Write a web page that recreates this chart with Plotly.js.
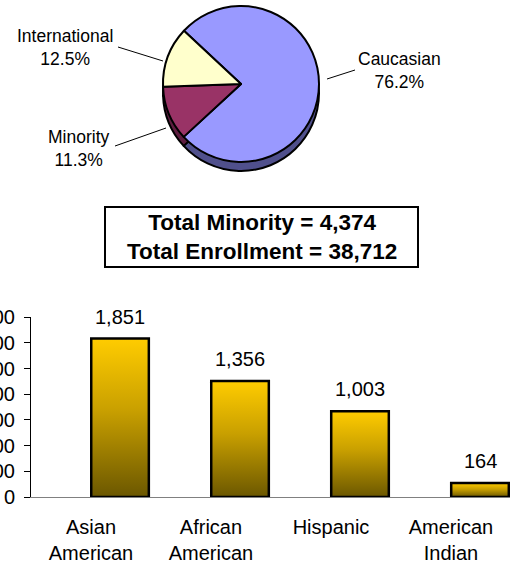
<!DOCTYPE html>
<html>
<head>
<meta charset="utf-8">
<script src="https://cdn.plot.ly/plotly-3.0.1.min.js"></script>
<style>html,body{margin:0;padding:0;background:#fff;}#chart{width:510px;height:564px;}</style>
</head>
<body>
<div id="chart"></div>
<script>
// ---- data ----
var pieLabels = ['Caucasian', 'Minority', 'International'];
var piePercents = [76.2, 11.3, 12.5];
var pieColors = ['#9999FF', '#993366', '#FFFFCC'];
var pieSideColors = ['#50508C', '#5E1D40', '#8C8C70'];

var barCategories = ['Asian<br>American', 'African<br>American', 'Hispanic', 'American<br>Indian'];
var barValues = [1851, 1356, 1003, 164];

var totalMinority = 4374;
var totalEnrollment = 38712;

// ---- helpers (pixel -> paper) ----
var W = 510, H = 564;
function px(x) { return x / W; }
function py(y) { return 1 - y / H; }
var FONT = 'Liberation Sans, Arial, sans-serif';

var traces = [];

// pie depth (shadow) then top face
var pieCx = 241, pieCy = 84, pieR = 78, depth = 9;
traces.push({
  type: 'pie', values: piePercents, labels: pieLabels, sort: false,
  direction: 'clockwise', rotation: -47, textinfo: 'none', hoverinfo: 'skip',
  showlegend: false,
  marker: { colors: pieSideColors, line: { color: '#000', width: 2 } },
  domain: { x: [px(pieCx - pieR), px(pieCx + pieR)], y: [py(pieCy + depth + pieR), py(pieCy + depth - pieR)] }
});
traces.push({
  type: 'pie', values: piePercents, labels: pieLabels, sort: false,
  direction: 'clockwise', rotation: -47, textinfo: 'none', hoverinfo: 'skip',
  showlegend: false,
  marker: { colors: pieColors, line: { color: '#000', width: 2 } },
  domain: { x: [px(pieCx - pieR), px(pieCx + pieR)], y: [py(pieCy + pieR), py(pieCy - pieR)] }
});

// bars as filled polygons with vertical gradient (bars sit right of their category label)
var halfW = 0.24, barOffset = 0.242;
barValues.forEach(function (v, i) {
  var c = i + barOffset;
  traces.push({
    type: 'scatter', mode: 'lines',
    x: [c - halfW, c - halfW, c + halfW, c + halfW, c - halfW],
    y: [0, v, v, 0, 0],
    fill: 'toself',
    fillgradient: { type: 'vertical', colorscale: [[0, '#6B5700'], [0.55, '#C9A000'], [1, '#FFCC00']] },
    line: { color: '#000', width: 2.5 },
    hoverinfo: 'skip', showlegend: false
  });
});

var annotations = [];
// pie labels
var pieLabelPos = [[399, 70], [79, 148], [65, 47]];
pieLabels.forEach(function (l, i) {
  annotations.push({
    xref: 'paper', yref: 'paper', x: px(pieLabelPos[i][0]), y: py(pieLabelPos[i][1]),
    xanchor: 'center', yanchor: 'middle', showarrow: false,
    text: l + '<br>' + piePercents[i].toFixed(1) + '%',
    font: { family: FONT, size: 17.5, color: '#000' }
  });
});
// totals box text
annotations.push({
  xref: 'paper', yref: 'paper', x: px(261.5), y: py(237),
  xanchor: 'center', yanchor: 'middle', showarrow: false,
  text: '<b>Total Minority = ' + totalMinority.toLocaleString('en-US') +
        '<br>Total Enrollment = ' + totalEnrollment.toLocaleString('en-US') + '</b>',
  font: { family: FONT, size: 22.5, color: '#000' }
});
// bar value labels
barValues.forEach(function (v, i) {
  annotations.push({
    xref: 'x', yref: 'y', x: i + barOffset, y: v, xanchor: 'center', yanchor: 'bottom',
    yshift: 9, showarrow: false, text: v.toLocaleString('en-US'),
    font: { family: FONT, size: 20, color: '#000' }
  });
});

var shapes = [
  // totals box
  { type: 'rect', xref: 'paper', yref: 'paper', x0: px(105), x1: px(418), y0: py(267), y1: py(207),
    line: { color: '#000', width: 2 }, fillcolor: 'rgba(0,0,0,0)' },
  // pie leader lines
  { type: 'line', xref: 'paper', yref: 'paper', x0: px(327), y0: py(79), x1: px(355), y1: py(70), line: { color: '#000', width: 1 } },
  { type: 'line', xref: 'paper', yref: 'paper', x0: px(118), y0: py(47), x1: px(163), y1: py(61), line: { color: '#000', width: 1 } },
  { type: 'line', xref: 'paper', yref: 'paper', x0: px(115), y0: py(146), x1: px(166), y1: py(128), line: { color: '#000', width: 1 } }
];

var layout = {
  width: W, height: H,
  margin: { l: 0, r: 0, t: 0, b: 0, pad: 0 },
  paper_bgcolor: '#fff', plot_bgcolor: 'rgba(0,0,0,0)',
  showlegend: false,
  font: { family: FONT, size: 20, color: '#000' },
  xaxis: {
    domain: [px(31), 1], range: [-0.5, 3.492],
    tickvals: [0, 1, 2, 3], ticktext: barCategories,
    ticks: '', showgrid: false, zeroline: false,
    showline: true, linecolor: '#808080', linewidth: 1,
    tickfont: { family: FONT, size: 20, color: '#000' },
    ticklabelstandoff: 12, automargin: false, fixedrange: true
  },
  yaxis: {
    domain: [1 - 497 / H, 1 - 317.3 / H], range: [0, 2100],
    tickvals: [0, 300, 600, 900, 1200, 1500, 1800, 2100], tickformat: ',d',
    ticks: 'outside', ticklen: 6, tickcolor: '#000', tickwidth: 1,
    showgrid: false, zeroline: false,
    showline: true, linecolor: '#000', linewidth: 1,
    tickfont: { family: FONT, size: 20, color: '#000' },
    ticklabelstandoff: 5, automargin: false, fixedrange: true
  },
  annotations: annotations,
  shapes: shapes
};

Plotly.newPlot('chart', traces, layout, { displayModeBar: false, staticPlot: true });
</script>
</body>
</html>
